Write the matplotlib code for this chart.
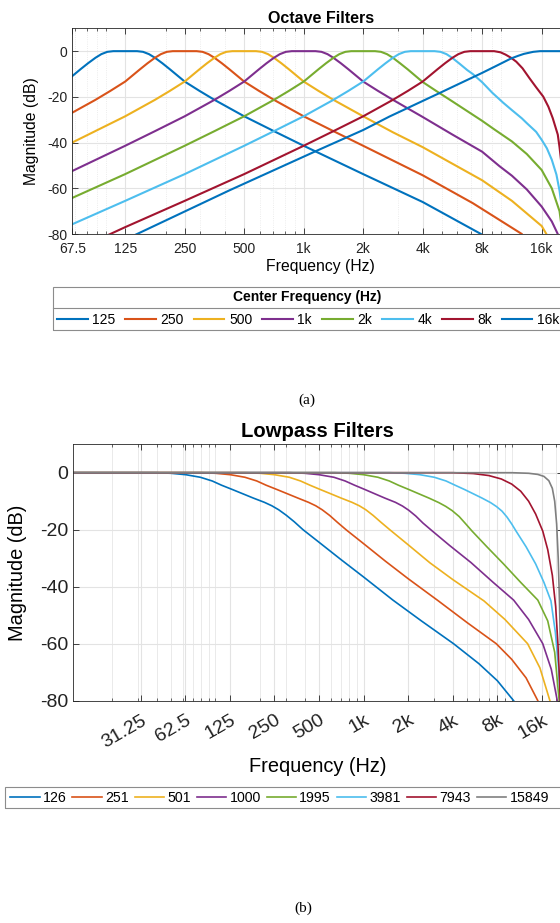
import matplotlib
matplotlib.use('Agg')
import matplotlib.pyplot as plt
from matplotlib.ticker import FixedLocator, FixedFormatter, LogLocator, NullFormatter
from matplotlib.lines import Line2D
from matplotlib.patches import Rectangle

plt.rcParams['font.family'] = ['Liberation Sans', 'DejaVu Sans']
plt.rcParams['axes.unicode_minus'] = False

# ---- (a) octave filters: frequency (Hz) / magnitude (dB) ----
oct_labels = ['125', '250', '500', '1k', '2k', '4k', '8k', '16k']

oct_125_f = [62.5, 74.3, 81.05, 88.4, 94.7, 101.5, 108.8, 125, 143.6, 153.9, 164.9, 176.8, 192.8,
             210.2, 250, 297.3, 353.6, 500, 707.1, 1000, 2000, 4000, 7890, 12000]
oct_125_db = [-13.3, -7.9, -5.3, -2.9, -1.3, -0.3, 0, 0, 0, -0.3, -1.3, -2.9, -5.3,
              -7.9, -13.3, -17.4, -21.3, -28.5, -35.0, -41.4, -53.8, -66.0, -80.0, -95.0]

oct_250_f = [62.5, 88.4, 105.1, 125, 148.7, 162.1, 176.8, 189.5, 203.1, 217.6, 250, 287.2, 307.8,
             329.9, 353.6, 385.5, 420.4, 500, 594.6, 707.1, 1000, 1414, 2000, 4000, 7170, 12700,
             16000]
oct_250_db = [-28.5, -21.3, -17.4, -13.3, -7.9, -5.3, -2.9, -1.3, -0.3, 0, 0, 0, -0.3,
              -1.3, -2.9, -5.3, -7.9, -13.3, -17.4, -21.3, -28.5, -35.0, -41.4, -54.3, -66.5, -80.0,
              -95.0]

oct_500_f = [62.5, 125, 176.8, 210.2, 250, 297.3, 324.2, 353.6, 378.9, 406.1, 435.3, 500, 574.4,
             615.6, 659.8, 707.1, 771.1, 840.9, 1000, 1189, 1414, 2000, 2828, 4000, 8000, 11314,
             16000, 16900, 19000]
oct_500_db = [-41.4, -28.5, -21.3, -17.4, -13.3, -7.9, -5.3, -2.9, -1.3, -0.3, 0, 0, 0,
              -0.3, -1.3, -2.9, -5.3, -7.9, -13.3, -17.4, -21.3, -28.5, -35.5, -42.0, -56.5, -65.5,
              -76.5, -80.0, -95.0]

oct_1k_f = [62.5, 125, 176.8, 250, 353.6, 420.4, 500, 594.6, 648.4, 707.1, 757.9, 812.3, 870.6,
            1000, 1148.7, 1231, 1319.5, 1414, 1542, 1681.8, 2000, 2378, 2828, 4000, 5657, 8000,
            9780, 11314, 13454, 16000, 18000, 19300, 21000]
oct_1k_db = [-53.8, -41.4, -35.0, -28.5, -21.3, -17.4, -13.3, -7.9, -5.3, -2.9, -1.3, -0.3, 0,
             0, 0, -0.3, -1.3, -2.9, -5.3, -7.9, -13.3, -17.4, -21.3, -28.8, -36.5, -44.0,
             -50.3, -54.5, -60.5, -68.0, -74.5, -80.0, -95.0]

oct_2k_f = [62.5, 125, 250, 353.6, 500, 707.1, 840.9, 1000, 1189, 1297, 1414, 1516, 1625, 1741,
            2000, 2297, 2462, 2639, 2828, 3084, 3364, 4000, 4757, 5657, 8000, 9240, 11314, 13454,
            16000, 18000, 19700, 21000]
oct_2k_db = [-65.5, -53.8, -41.4, -35.0, -28.5, -21.3, -17.4, -13.3, -7.9, -5.3, -2.9, -1.3, -0.3, 0,
             0, 0, -0.3, -1.3, -2.9, -5.4, -8.0, -13.5, -17.8, -22.0, -30.5, -34.3, -39.5, -45.0,
             -52.0, -60.0, -70.0, -88.0]

oct_4k_f = [62.5, 125, 250, 500, 707.1, 1000, 1414, 1682, 2000, 2378, 2594, 2828, 3031, 3249,
            3482, 4000, 4595, 4925, 5278, 5657, 6169, 6727, 7170, 8000, 9000, 10200, 11314, 12700,
            13454, 15000, 16000, 17000, 18000, 19000, 19700, 20500, 21000]
oct_4k_db = [-77.0, -65.5, -53.8, -41.4, -35.0, -28.5, -21.3, -17.4, -13.3, -7.9, -5.3, -2.9, -1.3,
             -0.3, 0, 0, 0, -0.3, -1.3, -3.0, -5.6, -8.3, -10.0, -13.6, -18.2, -22.5, -25.8, -29.4,
             -31.5, -35.3, -38.8, -42.5, -47.5, -54.0, -61.0, -72.0, -85.0]

oct_8k_f = [88.4, 125, 250, 500, 1000, 1414, 2000, 2828, 3364, 4000, 4757, 5187, 5657, 6063, 6498,
            6964, 8000, 9190, 9900, 10500, 11200, 11900, 12800, 13900, 15000, 16300, 17300, 18200,
            19300, 19700, 20500, 21500]
oct_8k_db = [-83.0, -77.0, -65.5, -53.8, -41.4, -35.0, -28.5, -21.3, -17.4, -13.3, -7.9, -5.3,
             -2.9, -1.3, -0.3, 0, 0, 0, -0.5, -1.5, -2.9, -4.6, -7.5, -11.9, -15.8, -19.9, -24.3,
             -29.3, -36.5, -42.0, -55.0, -90.0]

oct_16k_f = [125, 143.6, 421, 1135, 2000, 2717, 4850, 8000, 9500, 11200, 12200, 13000, 14500,
             15700, 18000, 22050]
oct_16k_db = [-82.5, -80.0, -60.9, -44.0, -34.5, -28.6, -18.4, -9.5, -6.3, -3.2, -2.0, -1.2, -0.3,
              0, 0, 0]

# ---- (b) lowpass filters ----
lp_labels = ['126', '251', '501', '1000', '1995', '3981', '7943', '15849']

lp_126_f = [10.9, 40, 50, 63, 79, 95, 110, 130, 153, 180, 214, 240, 267, 300, 340, 390, 500, 700,
            1000, 1577, 2455, 4048, 6000, 8000, 10300, 12000]
lp_126_db = [0, 0, -0.2, -0.7, -1.6, -2.9, -4.4, -5.9, -7.4, -8.9, -10.4, -11.6, -13.0, -14.9,
             -17.2, -20.0, -24.4, -30.4, -36.6, -44.7, -52.0, -60.0, -67.0, -73.0, -80.0, -86.0]

lp_251_f = [10.9, 80, 100, 126, 158, 190, 220, 260, 306, 360, 425, 475, 525, 590, 665, 765, 1000,
            1400, 2000, 3200, 5000, 7860, 10000, 12500, 15000, 16500]
lp_251_db = [0, 0, -0.2, -0.7, -1.6, -2.9, -4.4, -5.9, -7.4, -8.9, -10.4, -11.6, -13.0, -15.0,
             -17.4, -20.1, -24.9, -31.0, -37.2, -45.0, -52.6, -60.0, -65.5, -72.0, -80.0, -86.0]

lp_501_f = [10.9, 160, 200, 250, 315, 375, 435, 510, 600, 705, 835, 935, 1035, 1160, 1310, 1510,
            2000, 2800, 4000, 6500, 9000, 12800, 15500, 18100, 19000]
lp_501_db = [0, 0, -0.2, -0.7, -1.6, -2.9, -4.4, -5.9, -7.4, -8.9, -10.4, -11.6, -13.0, -15.0,
             -17.4, -20.1, -25.3, -31.6, -37.5, -45.0, -51.5, -60.0, -68.5, -80.0, -86.0]

lp_1000_f = [10.9, 320, 400, 500, 630, 750, 870, 1020, 1190, 1390, 1640, 1830, 2020, 2250, 2520,
             2900, 3800, 5300, 7500, 10300, 13000, 16200, 18500, 20300, 21000]
lp_1000_db = [0, 0, -0.2, -0.7, -1.6, -2.9, -4.4, -5.9, -7.4, -8.9, -10.4, -11.7, -13.2, -15.2,
              -17.7, -20.4, -25.5, -31.5, -38.5, -44.7, -51.5, -60.0, -69.0, -80.0, -87.0]

lp_1995_f = [10.9, 640, 800, 1000, 1250, 1490, 1720, 2020, 2360, 2760, 3220, 3580, 3960, 4420,
             4880, 5400, 6800, 8800, 11500, 15000, 17500, 19500, 20900, 21500]
lp_1995_db = [0, 0, -0.2, -0.7, -1.6, -2.9, -4.4, -5.9, -7.4, -8.9, -10.5, -11.8, -13.3, -15.4,
              -17.9, -20.5, -26.0, -32.0, -38.5, -44.7, -52.0, -63.0, -80.0, -88.0]

lp_3981_f = [10.9, 1500, 1900, 2400, 3000, 3600, 4150, 4800, 5500, 6300, 7200, 7900, 8600, 9300,
             10000, 10700, 12500, 14500, 16500, 18400, 19700, 20600, 21300, 21800]
lp_3981_db = [0, 0, -0.2, -0.7, -1.6, -2.9, -4.4, -5.9, -7.4, -8.9, -10.5, -11.9, -13.5, -15.6,
              -18.0, -20.5, -26.0, -32.0, -38.5, -45.0, -56.0, -67.0, -80.0, -90.0]

lp_7943_f = [10.9, 4000, 5500, 7000, 8500, 10000, 11500, 13000, 14500, 16200, 17500, 18800, 19800,
             20500, 21000, 21400, 21700]
lp_7943_db = [0, 0, -0.3, -1.0, -2.2, -4.0, -6.5, -10.0, -14.5, -20.5, -27.0, -36.0, -47.0, -60.0,
              -72.0, -85.0, -95.0]

lp_15849_f = [10.9, 10000, 13000, 15000, 16500, 17800, 18800, 19500, 20100, 20600, 21000, 21400,
              21700]
lp_15849_db = [0, 0, -0.2, -0.6, -1.3, -2.8, -5.5, -10.0, -18.0, -30.0, -45.0, -65.0, -90.0]

matlab = ['#0072BD', '#D95319', '#EDB120', '#7E2F8E', '#77AC30', '#4DBEEE', '#A2142F']

W, H = 560, 923


def fx(px):
    return px / W


def fy(py):
    return 1 - py / H


def style_axes(ax, minor_style, tick_size):
    ax.set_xscale('log')
    ax.set_ylim(-80, 10)
    ax.set_yticks([-80, -60, -40, -20, 0])
    ax.xaxis.set_minor_locator(LogLocator(base=10, subs=range(1, 10), numticks=20))
    ax.xaxis.set_minor_formatter(NullFormatter())
    ax.grid(True, which='major', color='#e3e3e3', lw=0.8)
    ax.grid(True, which='minor', color='#e6e6e6', lw=0.6, linestyle=minor_style)
    ax.set_axisbelow(True)
    ax.tick_params(which='both', direction='in', top=True, right=True, colors='#262626',
                   labelsize=tick_size, labelcolor='#222222')
    ax.tick_params(which='major', length=4, width=0.6)
    ax.tick_params(which='minor', length=2, width=0.5)
    for s in ax.spines.values():
        s.set_color('#262626')
        s.set_linewidth(0.6)


def boxed_legend(fig, handles, labels, x0, x1, y0, y1, entry_x, entry_y, size,
                 title=None, title_y=None, sep_y=None, **kw):
    fig.add_artist(Rectangle((fx(x0), fy(y1)), fx(x1) - fx(x0), (y1 - y0) / H,
                             transform=fig.transFigure, fill=False, edgecolor='#8c8c8c', lw=0.8))
    if title:
        fig.text(fx((x0 + x1) / 2), fy(title_y), title, ha='center', va='center',
                 fontsize=size, fontweight='bold')
        fig.add_artist(Line2D([fx(x0), fx(x1)], [fy(sep_y)] * 2, transform=fig.transFigure,
                              color='#8c8c8c', lw=0.8))
    fig.legend(handles, labels, loc='center left', bbox_to_anchor=(fx(entry_x), fy(entry_y)),
               ncol=len(labels), frameon=False, fontsize=size, borderpad=0, borderaxespad=0, **kw)


def make_plot():
    fig = plt.figure(figsize=(W / 100, H / 100), dpi=100)

    # (a)
    ax = fig.add_axes([fx(72.3), fy(234), (569.2 - 72.3) / W, (234 - 28.3) / H])
    oct_f = [oct_125_f, oct_250_f, oct_500_f, oct_1k_f, oct_2k_f, oct_4k_f, oct_8k_f, oct_16k_f]
    oct_db = [oct_125_db, oct_250_db, oct_500_db, oct_1k_db, oct_2k_db, oct_4k_db, oct_8k_db,
              oct_16k_db]
    lines = []
    for i, (f, db) in enumerate(zip(oct_f, oct_db)):
        ln, = ax.plot(f, db, color=matlab[i % 7], lw=1.5)
        lines.append(ln)
    style_axes(ax, ':', 10)
    ax.set_xlim(67.5, 22050)
    ticks = [67.5, 125, 250, 500, 1000, 2000, 4000, 8000, 16000]
    ax.xaxis.set_major_locator(FixedLocator(ticks))
    ax.xaxis.set_major_formatter(FixedFormatter(['67.5', '125', '250', '500', '1k', '2k', '4k',
                                                 '8k', '16k']))
    ax.tick_params(axis='x', pad=6)
    ax.set_title('Octave Filters', fontsize=11.5, fontweight='bold', pad=4)
    ax.set_xlabel('Frequency (Hz)', fontsize=11.3, labelpad=2)
    ax.set_ylabel('Magnitude (dB)', fontsize=11.3, labelpad=6)

    boxed_legend(fig, lines, oct_labels, 53, 562, 286.7, 330, 57, 320, 10,
                 title='Center Frequency (Hz)', title_y=297.3, sep_y=308.3,
                 handlelength=2.2, handletextpad=0.33, columnspacing=0.72)
    fig.text(fx(307), fy(400.5), '(a)', ha='center', va='center', fontsize=11,
             family='Liberation Serif')

    # (b)
    bx = fig.add_axes([fx(72.9), fy(700.7), (562.6 - 72.9) / W, (700.7 - 444.2) / H])
    lp_f = [lp_126_f, lp_251_f, lp_501_f, lp_1000_f, lp_1995_f, lp_3981_f, lp_7943_f, lp_15849_f]
    lp_db = [lp_126_db, lp_251_db, lp_501_db, lp_1000_db, lp_1995_db, lp_3981_db, lp_7943_db,
             lp_15849_db]
    lp_colors = matlab + ['#808080']
    lp_lines = []
    for f, db, c in zip(lp_f, lp_db, lp_colors):
        ln, = bx.plot(f, db, color=c, lw=1.2)
        lp_lines.append(ln)
    style_axes(bx, '-', 14)
    bx.set_xlim(10.9, 22050)
    bticks = [31.25, 62.5, 125, 250, 500, 1000, 2000, 4000, 8000, 16000]
    bx.xaxis.set_major_locator(FixedLocator(bticks))
    bx.xaxis.set_major_formatter(FixedFormatter(['31.25', '62.5', '125', '250', '500', '1k', '2k',
                                                 '4k', '8k', '16k']))
    bx.tick_params(axis='x', pad=8)
    for lab in bx.get_xticklabels():
        lab.set_rotation(30)
        lab.set_ha('right')
        lab.set_rotation_mode('anchor')
    bx.set_title('Lowpass Filters', fontsize=14.6, fontweight='bold', pad=5)
    bx.set_xlabel('Frequency (Hz)', fontsize=14.4, labelpad=4)
    bx.set_ylabel('Magnitude (dB)', fontsize=14.4, labelpad=9)

    boxed_legend(fig, lp_lines, lp_labels, 5, 562, 787, 808, 10, 797.5, 10.2,
                 handlelength=2.1, handletextpad=0.22, columnspacing=0.4)
    fig.text(fx(303), fy(908), '(b)', ha='center', va='center', fontsize=11,
             family='Liberation Serif')

    fig.savefig('out.png', dpi=100)


if __name__ == '__main__':
    make_plot()
